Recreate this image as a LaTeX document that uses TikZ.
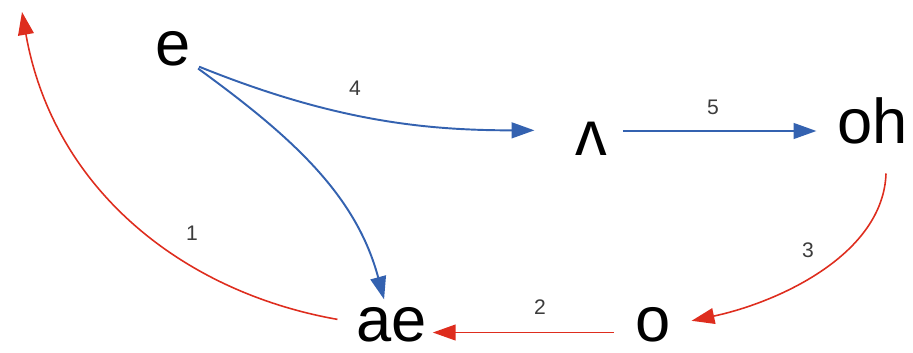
\documentclass[tikz,border=0pt]{standalone}
\usepackage{fontspec}
\setmainfont{Liberation Sans}
\usetikzlibrary{arrows.meta}
\definecolor{edgeblue}{RGB}{52,98,176}
\definecolor{edgered}{RGB}{222,45,30}
\definecolor{numgray}{RGB}{60,60,60}

\begin{document}
\begin{tikzpicture}[x=0.02cm,y=0.02cm,
  vowel/.style={inner sep=0pt,text height=14pt,text depth=0pt,
    font=\fontsize{36}{40}\selectfont},
  num/.style={text=numgray,font=\fontsize{12}{14}\selectfont},
  blueedge/.style={edgeblue,line width=1.1pt,-{Triangle[length=13pt,width=9pt]}},
  rededge/.style={edgered,line width=0.9pt,-{Triangle[length=13pt,width=9pt]}}]
  % one unit = one pixel of the 913 x 352 frame
  \useasboundingbox (0,0) rectangle (913,352);
  \node[vowel] (e) at (173,299) {e};
  \node[vowel] (ae) at (392,23) {ae};
  \node[vowel] (o) at (653,23) {o};
  \node[vowel] (lam) at (591,209) {ʌ};
  \node[vowel] (oh) at (873,221) {oh};
  \coordinate (top) at (22,340);
  % blue shifts
  \draw[blueedge,shorten <=5pt,shorten >=23pt] (e.-30)
    to[out=-22,in=180] (lam.north west);
  \draw[blueedge,shorten <=5pt,shorten >=10pt] (e.-30)
    to[out=-36,in=105] (ae);
  \draw[blueedge,shorten <=9pt,shorten >=12pt] (oh.west -| lam.east) -- (oh.west);
  % red shifts
  \draw[rededge,shorten <=17pt,shorten >=12pt] ([xshift=8pt]oh.south)
    to[out=-92,in=12] (o);
  \draw[rededge,shorten <=12pt,shorten >=3pt] ([yshift=-2pt]o.west) -- ([yshift=-2pt]ae.east);
  \draw[rededge,shorten <=11pt] (ae.170) to[out=170,in=-80] (top);
  \foreach \n/\p in {1/{(192,119)},2/{(540,45)},3/{(808,102)},4/{(355,264)},5/{(713,245)}} {
    \node[num] (n\n) at \p {\n};
  }
\end{tikzpicture}
\end{document}
